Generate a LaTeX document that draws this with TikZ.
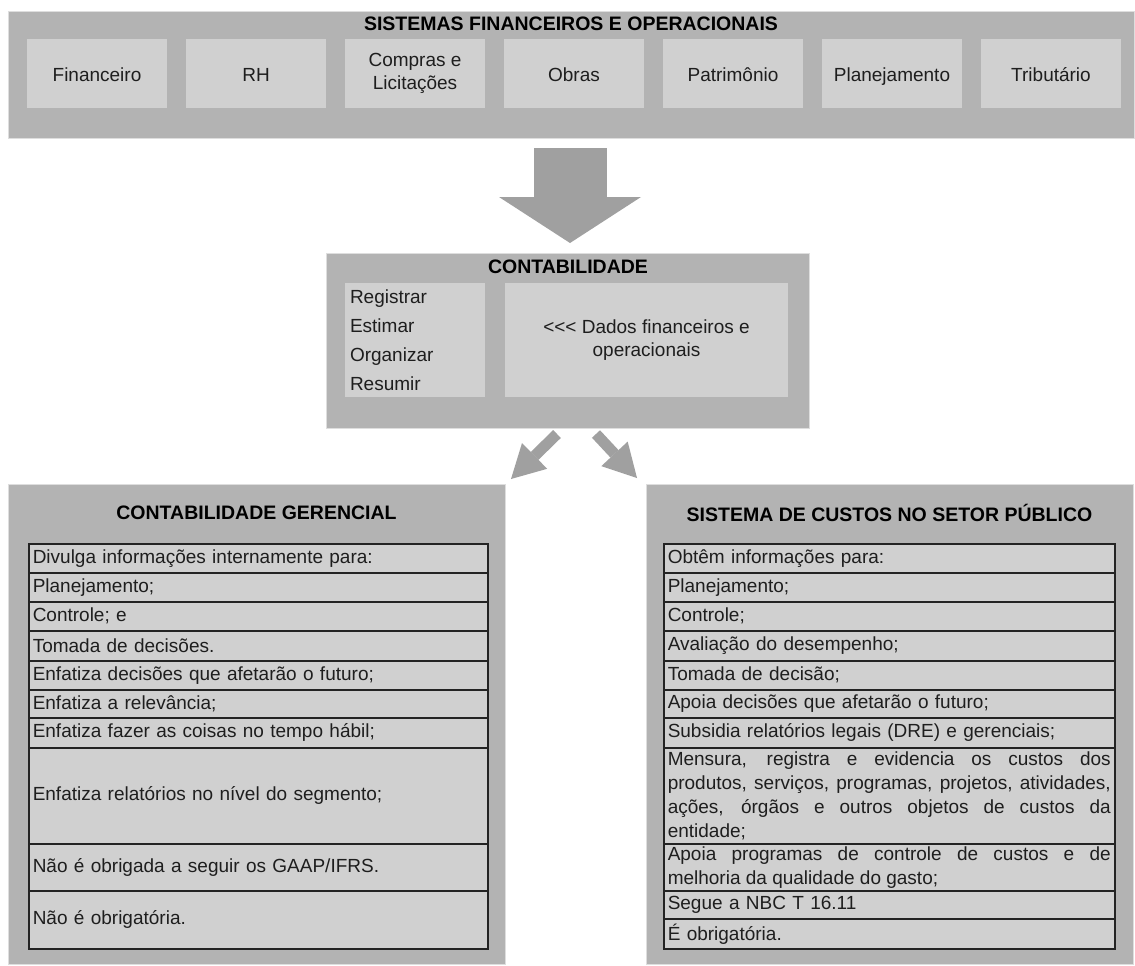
\documentclass[tikz,border=0pt]{standalone}
\usepackage{fontspec}
\setmainfont{Liberation Sans}
\usetikzlibrary{arrows.meta}
\definecolor{outerg}{RGB}{179,179,179}
\definecolor{innerg}{RGB}{208,208,208}
\definecolor{edgeg}{RGB}{222,222,222}
\definecolor{arrowg}{RGB}{160,160,160}
\definecolor{txt}{RGB}{30,30,30}
\definecolor{rowline}{RGB}{35,35,35}
\newcommand{\mybody}{\fontsize{19}{24}\selectfont}
\newcommand{\myhdr}{\fontsize{19.5}{24}\selectfont\bfseries}
\begin{document}
\begin{tikzpicture}[x=1pt,y=-1pt,
  box/.style={fill=outerg, draw=edgeg, line width=1pt, anchor=north west, inner sep=0pt},
  sub/.style={fill=innerg, draw=none, inner sep=0pt, align=center, font=\mybody, text=txt},
  one/.style={text height=15.5pt, text depth=0pt},
  hdr/.style={font=\myhdr, text=black, inner sep=0pt},
  row/.style={draw=rowline, line width=1.5pt, fill=innerg, anchor=north west, inner xsep=4pt, inner ysep=0pt, font=\mybody, text=txt},
  lrow/.style={row, text width=451pt, align=left},
  rrow/.style={row, text width=443pt, align=left},
  rjust/.style={row, text width=443pt, align=justify},
  bigarrow/.style={draw=arrowg, line width=73pt, -{Triangle[width=142pt,length=46pt,line width=0pt]}},
  smallarrow/.style={draw=arrowg, line width=11pt, -{Triangle[width=36pt,length=33pt,line width=0pt]}}
]
\useasboundingbox (0,0) rectangle (1135,966);
\fill[white] (0,0) rectangle (1135,966);

% top system box
\node[box, minimum width=1126pt, minimum height=127pt] (sys) at (8,11) {};
\node[hdr] (systitle) at (571,24) {SISTEMAS FINANCEIROS E OPERACIONAIS};
\node[sub, one, minimum width=140pt, minimum height=69pt] (fin) at (97,73.5) {Financeiro};
\node[sub, one, minimum width=140pt, minimum height=69pt] (rh) at (256,73.5) {RH};
\node[sub, minimum width=140pt, minimum height=69pt, font=\fontsize{19}{23}\selectfont] (comp) at (415,73.5) {Compras e\\Licitações};
\node[sub, one, minimum width=140pt, minimum height=69pt] (obras) at (574,73.5) {Obras};
\node[sub, one, minimum width=140pt, minimum height=69pt] (patr) at (733,73.5) {Patrimônio};
\node[sub, one, minimum width=140pt, minimum height=69pt] (plan) at (892,73.5) {Planejamento};
\node[sub, one, minimum width=140pt, minimum height=69pt] (trib) at (1051,73.5) {Tributário};

% big arrow
\coordinate (bigS) at (570,148);
\coordinate (bigE) at (570,243);
\draw[bigarrow] (bigS) -- (bigE);

% contabilidade
\node[box, minimum width=483pt, minimum height=175pt] (cont) at (326,253) {};
\node[hdr] (conttitle) at (568,267) {CONTABILIDADE};
\node[sub, minimum width=140pt, minimum height=114pt, text width=130pt, align=left, font=\fontsize{19}{29}\selectfont] (verbs) at (415,340) {Registrar\\Estimar\\Organizar\\Resumir};
\node[sub, minimum width=283pt, minimum height=114pt, font=\fontsize{19}{23}\selectfont] (dados) at (646.5,340) {{<}{<}{<} Dados financeiros e\\operacionais};

% small arrows
\coordinate (laS) at (557,434);
\coordinate (laE) at (511,479);
\coordinate (raS) at (596,434);
\coordinate (raE) at (637,478);
\draw[smallarrow] (laS) -- (laE);
\draw[smallarrow] (raS) -- (raE);

% left box
\node[box, minimum width=497pt, minimum height=480pt] (cg) at (8,484) {};
\node[hdr] (cgtitle) at (256.5,513) {CONTABILIDADE GERENCIAL};
\node[lrow, minimum height=29pt] (l1) at (28,543) {Divulga informações internamente para:};
\node[lrow, minimum height=29pt] (l2) at (28,572) {Planejamento;};
\node[lrow, minimum height=29pt] (l3) at (28,601) {Controle; e};
\node[lrow, minimum height=30pt] (l4) at (28,630) {Tomada de decisões.};
\node[lrow, minimum height=29pt] (l5) at (28,660) {Enfatiza decisões que afetarão o futuro;};
\node[lrow, minimum height=28pt] (l6) at (28,689) {Enfatiza a relevância;};
\node[lrow, minimum height=30pt] (l7) at (28,717) {Enfatiza fazer as coisas no tempo hábil;};
\node[lrow, minimum height=96pt] (l8) at (28,747) {Enfatiza relatórios no nível do segmento;};
\node[lrow, minimum height=47pt] (l9) at (28,843) {Não é obrigada a seguir os GAAP/IFRS.};
\node[lrow, minimum height=58pt] (l10) at (28,890) {Não é obrigatória.};

% right box
\node[box, minimum width=487pt, minimum height=480pt] (cs) at (646,484) {};
\node[hdr] (cstitle) at (889.5,513) {SISTEMA DE CUSTOS NO SETOR PÚBLICO};
\node[rrow, minimum height=29pt] (r1) at (663,543) {Obtêm informações para:};
\node[rrow, minimum height=29pt] (r2) at (663,572) {Planejamento;};
\node[rrow, minimum height=29pt] (r3) at (663,601) {Controle;};
\node[rrow, minimum height=30pt] (r4) at (663,630) {Avaliação do desempenho;};
\node[rrow, minimum height=29pt] (r5) at (663,660) {Tomada de decisão;};
\node[rrow, minimum height=28pt] (r6) at (663,689) {Apoia decisões que afetarão o futuro;};
\node[rrow, minimum height=30pt] (r7) at (663,717) {Subsidia relatórios legais (DRE) e gerenciais;};
\node[rjust, minimum height=96pt] (r8) at (663,747) {Mensura, registra e evidencia os custos dos\linebreak produtos, serviços, programas, projetos, atividades,\linebreak ações, órgãos e outros objetos de custos da\linebreak entidade;};
\node[rjust, minimum height=47pt] (r9) at (663,843) {Apoia programas de controle de custos e de\linebreak melhoria da qualidade do gasto;};
\node[rrow, minimum height=28pt] (r10) at (663,890) {Segue a NBC T 16.11};
\node[rrow, minimum height=30pt] (r11) at (663,918) {É obrigatória.};
\end{tikzpicture}
\end{document}
